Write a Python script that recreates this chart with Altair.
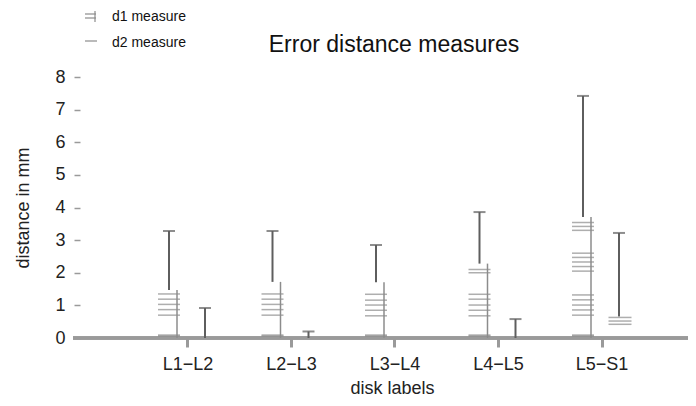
import json
import altair as alt
import pandas as pd

# ---------------- data ----------------
disks = ["L1−L2", "L2−L3", "L3−L4", "L4−L5", "L5−S1"]
positions = [1, 2, 3, 4, 5]

d1_samples = [
    [0.06, 0.09, 0.70, 0.87, 1.03, 1.19, 1.35],
    [0.06, 0.09, 0.70, 0.87, 1.03, 1.19, 1.35],
    [0.06, 0.09, 0.68, 0.85, 1.01, 1.16, 1.34],
    [0.06, 0.09, 0.68, 0.85, 1.01, 1.19, 1.34, 2.00, 2.10],
    [0.06, 0.09, 0.70, 0.86, 1.01, 1.17, 1.32, 2.05, 2.19, 2.33, 2.47, 2.60, 3.30, 3.42, 3.54],
]
d1_mid = [1.47, 1.72, 1.71, 2.28, 3.71]
d1_high = [3.28, 3.28, 2.85, 3.86, 7.42]

d2_samples = [[], [], [], [], [0.42, 0.52, 0.63]]
d2_low = [0.0, 0.0, 0.0, 0.0, 0.66]
d2_high = [0.92, 0.20, 0.0, 0.58, 3.22]

y_ticks = [0, 1, 2, 3, 4, 5, 6, 7, 8]
legend_labels = ["d1 measure", "d2 measure"]
title_text = "Error distance measures"

# ---------------- tables ----------------
rows = []
for p, vals in zip(positions, d1_samples):
    for v in vals:
        rows.append({"pos": p, "value": v, "series": legend_labels[0]})
for p, vals in zip(positions, d2_samples):
    for v in vals:
        rows.append({"pos": p, "value": v, "series": legend_labels[1]})
samples = pd.DataFrame(rows)

summary = pd.DataFrame({
    "pos": positions, "disk": disks,
    "d1_mid": d1_mid, "d1_high": d1_high,
    "d2_low": d2_low, "d2_high": d2_high,
})

# ---------------- layout ----------------
W, H = 604, 261
UNIT = 103.5
FONT = "Liberation Sans"
LINE = "#5e5e5e"
TICK = "#8c8c8c"
AXIS = "#9a9a9a"

label_expr = "%s[datum.value - 1]" % json.dumps(disks, ensure_ascii=False)

xscale = alt.Scale(domain=[0, W / UNIT], nice=False, zero=False)
yscale = alt.Scale(domain=[0, 8], nice=False)

x_axis = alt.Axis(values=positions, labelExpr=label_expr, domain=False, grid=False,
                  tickSize=9, tickWidth=3, tickColor=AXIS, labelFontSize=18,
                  labelFont=FONT, labelColor="#222", labelPadding=8,
                  title="disk labels", titleFont=FONT, titleFontSize=18,
                  titleFontWeight="normal", titleColor="#222", titlePadding=6,
                  titleX=308)
y_axis = alt.Axis(values=y_ticks, domain=False, grid=False, offset=4,
                  tickSize=6, tickWidth=1.5, tickColor=AXIS, labelFontSize=18,
                  labelFont=FONT, labelColor="#222", labelPadding=9,
                  title="distance in mm", titleFont=FONT, titleFontSize=18,
                  titleFontWeight="normal", titleColor="#222", titlePadding=22)

X = alt.X("pos:Q", scale=xscale, axis=x_axis)


def Y(f):
    return alt.Y(f, type="quantitative", scale=yscale, axis=y_axis)


base = alt.Chart(summary)

axis_line = base.mark_rule(color=AXIS, strokeWidth=3).encode(
    x=alt.value(-11), x2=alt.value(W), y=alt.value(H))

d1_line = base.transform_calculate(zero="0").mark_rule(
    color=TICK, strokeWidth=1.5, xOffset=-10.5).encode(
    x=X, y=Y("zero"), y2="d1_mid:Q")
d1_err = base.mark_rule(color=LINE, strokeWidth=2, xOffset=-18.5).encode(
    x=X, y=Y("d1_mid"), y2="d1_high:Q")
d1_cap = base.mark_tick(color=LINE, orient="horizontal", size=12, thickness=2,
                        xOffset=-18.5).encode(x=X, y=Y("d1_high"))

d2_base = base.transform_filter(alt.datum.d2_high > alt.datum.d2_low)
d2_err = d2_base.mark_rule(color=LINE, strokeWidth=2, xOffset=17.5).encode(
    x=X, y=Y("d2_low"), y2="d2_high:Q")
d2_cap = d2_base.mark_tick(color=LINE, orient="horizontal", size=12, thickness=2,
                           xOffset=17.5).encode(x=X, y=Y("d2_high"))

d1_ticks = alt.Chart(samples).transform_filter(
    alt.datum.series == legend_labels[0]).mark_tick(
    color=TICK, orient="horizontal", size=22, thickness=1.5, xOffset=-18.5
).encode(x=X, y=Y("value"))
d2_ticks = alt.Chart(samples).transform_filter(
    alt.datum.series == legend_labels[1]).mark_tick(
    color=TICK, orient="horizontal", size=23, thickness=1.5, xOffset=18.5
).encode(x=X, y=Y("value"))

# legend and title drawn as text / rules above the plot
one = alt.Chart(pd.DataFrame({"k": [0]}))
leg_text1 = one.mark_text(align="left", baseline="middle", font=FONT, fontSize=14,
                          color="#111", text=legend_labels[0]).encode(
    x=alt.value(28), y=alt.value(-60))
leg_text2 = one.mark_text(align="left", baseline="middle", font=FONT, fontSize=14,
                          color="#111", text=legend_labels[1]).encode(
    x=alt.value(28), y=alt.value(-34))
leg_sym1a = one.mark_rule(color=TICK, strokeWidth=1.2).encode(
    x=alt.value(1), x2=alt.value(12), y=alt.value(-63))
leg_sym1b = one.mark_rule(color=TICK, strokeWidth=1.2).encode(
    x=alt.value(1), x2=alt.value(12), y=alt.value(-59))
leg_sym1c = one.mark_rule(color=TICK, strokeWidth=1.2).encode(
    x=alt.value(11), y=alt.value(-66), y2=alt.value(-55))
leg_sym2 = one.mark_rule(color=TICK, strokeWidth=1.2).encode(
    x=alt.value(1), x2=alt.value(13), y=alt.value(-36))

title = one.mark_text(align="center", baseline="middle", font=FONT, fontSize=23,
                      color="#111", text=title_text).encode(
    x=alt.value(310), y=alt.value(-32))

chart = alt.layer(
    axis_line, d1_line, d1_err, d1_cap, d2_err, d2_cap, d1_ticks, d2_ticks,
    leg_text1, leg_text2, leg_sym1a, leg_sym1b, leg_sym1c, leg_sym2, title
).properties(
    width=W, height=H,
    autosize=alt.AutoSizeParams(type="none"),
    padding={"left": 76, "top": 69, "right": 0, "bottom": 60},
).configure_view(stroke=None)

chart.save("out.html", embed_options={"renderer": "svg", "actions": False})
